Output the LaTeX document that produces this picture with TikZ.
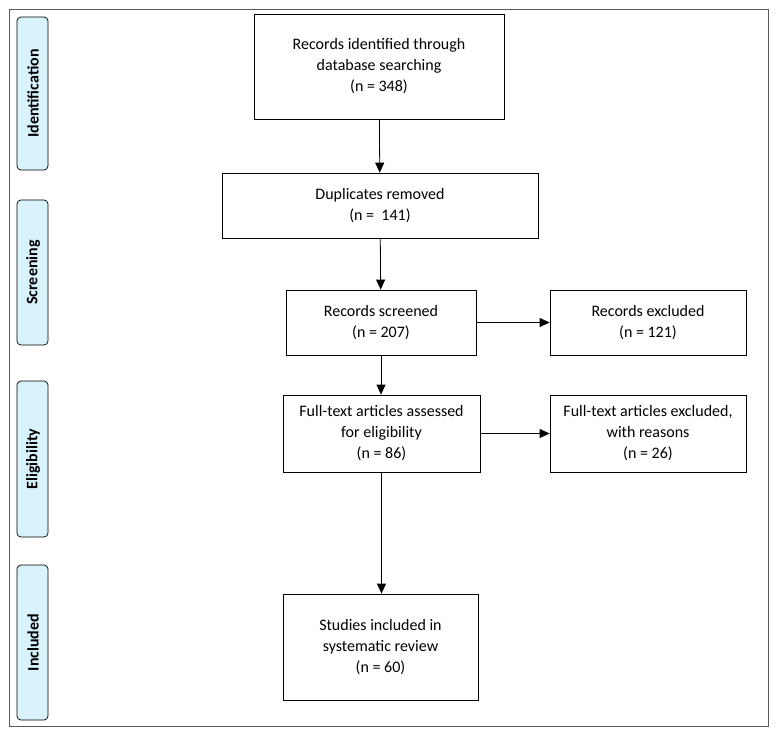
\documentclass[tikz,border=0pt]{standalone}
\usepackage{fontspec}
\setmainfont{Carlito}
\usetikzlibrary{arrows.meta}
\begin{document}
\begin{tikzpicture}[x=1pt,y=-1pt,
 box/.style={draw,line width=0.8pt,align=center,font=\fontsize{16}{21}\selectfont,inner sep=0pt},
 side/.style={draw,rounded corners=4pt,fill=cyan!15,line width=0.7pt},
 sidetxt/.style={rotate=90,font=\bfseries\fontsize{16}{18}\selectfont},
 arr/.style={-{Triangle[length=10pt,width=9pt]},line width=0.8pt}]
\useasboundingbox (0,0) rectangle (777,736);
\draw[line width=0.6pt,gray!70!black] (9,9) rectangle (768,726);
\foreach \n/\t/\a/\b in {id/Identification/17/170, sc/Screening/200/345, el/Eligibility/381/537, in/Included/565/720}{
 \draw[side] (17,\a) rectangle (48,\b);
 \node[sidetxt] (\n) at (33,{(\a+\b)/2}) {\t};
}
\node[box,minimum width=250pt,minimum height=105pt] (a) at (379,66.5) {Records identified through\\database searching\\(n = 348)};
\node[box,minimum width=316pt,minimum height=65pt] (b) at (380,205.5) {Duplicates removed\\(n =\ \ 141)};
\node[box,minimum width=190pt,minimum height=65pt] (c) at (381,322.5) {Records screened\\(n = 207)};
\node[box,minimum width=196pt,minimum height=65pt] (d) at (648,322.5) {Records excluded\\(n = 121)};
\node[box,minimum width=197pt,minimum height=77pt] (e) at (381.5,433.5) {Full-text articles assessed\\for eligibility\\(n = 86)};
\node[box,minimum width=196pt,minimum height=77pt] (f) at (648,433.5) {Full-text articles excluded,\\with reasons\\(n = 26)};
\node[box,minimum width=195pt,minimum height=106pt] (g) at (380.5,647) {Studies included in\\systematic review\\(n = 60)};
\draw[arr] (a) -- (b);
\draw[arr] (b) -- (c);
\draw[arr] (c) -- (d);
\draw[arr] (c.south) -- (c.south |- e.north);
\draw[arr] (e) -- (f);
\draw[arr] (e.south) -- (e.south |- g.north);
\end{tikzpicture}
\end{document}
